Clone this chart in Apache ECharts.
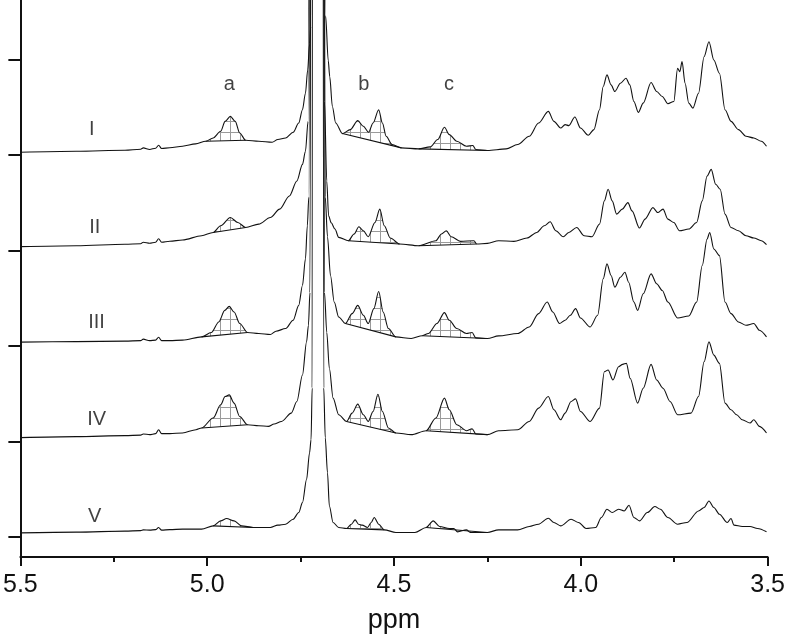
<!DOCTYPE html>
<html>
<head>
<meta charset="utf-8">
<script src="https://cdn.jsdelivr.net/npm/echarts@6/dist/echarts.min.js"></script>
<style>html,body{margin:0;padding:0;background:#fff}#c{width:788px;height:639px}</style>
</head>
<body>
<div id="c"></div>
<script>
// ---- data (ppm, intensity above each trace's reference line) ----
const xTicks = [3.5, 4.0, 4.5, 5.0, 5.5];
const traceNames = ['I', 'II', 'III', 'IV', 'V'];
const traceOffsets = [384, 288, 192, 96, 0];
const yTickValues = [0, 96, 192, 288, 384, 480];

const specI = [[5.5,3],[5.35,4],[5.22,5],[5.178,6],[5.171,7.3],[5.154,5.7],[5.138,7],[5.13,10],[5.122,6.7],[5.10,7.5],[5.066,9],[5.031,11.3],[5.004,14],[4.984,17.3],[4.964,24],[4.952,34],[4.938,39],[4.925,34],[4.913,22.3],[4.897,15],[4.862,14],[4.826,13],[4.811,15.7],[4.790,17.3],[4.770,23],[4.755,32.3],[4.745,45.7],[4.737,62.3],[4.731,85.7],[4.726,112],[4.723,129],
[4.717,2000],[4.705,8000],[4.693,2000],
[4.683,140],[4.676,95],[4.672,79],[4.665,49],[4.656,32.3],[4.638,21.7],[4.617,25.7],[4.597,34.7],[4.582,29],[4.568,23],[4.556,32.3],[4.541,45.7],[4.531,32.3],[4.521,19],[4.505,10.7],[4.480,7.3],[4.434,6.3],[4.403,8.3],[4.383,15.7],[4.365,28],[4.352,20.7],[4.332,14],[4.306,9],[4.289,9.7],[4.281,5.7],[4.250,4.7],[4.200,6.3],[4.169,10.7],[4.138,19],[4.113,32.3],[4.087,44],[4.072,34],[4.054,27.3],[4.042,30.7],[4.032,29.7],[4.016,38.3],[4.001,27.3],[3.980,20],[3.965,25.7],[3.950,45.7],[3.940,69],[3.930,80.7],[3.919,70.7],[3.909,64],[3.894,72.3],[3.879,77.3],[3.869,70.7],[3.858,54],[3.846,43],[3.833,52.3],[3.812,73],[3.797,64],[3.782,59],[3.767,51.7],[3.751,54],[3.741,87.3],[3.735,84],[3.729,94],[3.721,72.3],[3.711,52.3],[3.700,47.3],[3.685,62.3],[3.670,99],[3.657,114],[3.644,95.7],[3.629,82.3],[3.614,45.7],[3.598,34],[3.578,25.7],[3.558,19],[3.537,17.3],[3.517,14],[3.503,9]];

const specII = [[5.5,4],[5.35,5],[5.22,6.5],[5.178,7],[5.171,8.5],[5.154,7.5],[5.138,8.5],[5.13,12],[5.122,8.5],[5.10,9.5],[5.066,10.7],[5.015,15],[4.984,18.3],[4.964,25],[4.938,33.3],[4.918,28.3],[4.897,23.3],[4.862,26.7],[4.831,33.3],[4.806,41.7],[4.780,55],[4.760,70],[4.745,86.7],[4.737,100],[4.730,130],
[4.717,2000],[4.705,8000],[4.693,2000],
[4.686,150],[4.680,70],[4.675,35],[4.668,28],[4.658,21.7],[4.648,13.3],[4.622,10],[4.607,16.7],[4.594,24],[4.582,20],[4.569,14],[4.551,28.3],[4.538,41.7],[4.526,25],[4.510,12.7],[4.485,6.7],[4.434,5],[4.388,10],[4.373,16.7],[4.360,20],[4.347,14],[4.322,9.3],[4.286,10],[4.279,6.7],[4.250,7.3],[4.220,10],[4.179,9.3],[4.144,12.7],[4.118,18.3],[4.098,25],[4.082,29],[4.067,20],[4.047,14],[4.032,18.3],[4.011,23.3],[3.991,15],[3.970,14],[3.950,26.7],[3.937,50],[3.927,61.7],[3.916,50],[3.904,36.7],[3.889,41.7],[3.874,48.3],[3.863,40],[3.843,22.7],[3.828,31.7],[3.807,43.3],[3.794,38.3],[3.780,41.7],[3.767,31.7],[3.751,28.3],[3.736,20],[3.711,21.7],[3.690,28.3],[3.675,50],[3.662,75],[3.651,81.7],[3.639,66.7],[3.627,61.7],[3.614,36.7],[3.598,23.3],[3.578,20],[3.558,15],[3.537,12.7],[3.517,10],[3.503,6]];

const specIII = [[5.5,4],[5.35,4.5],[5.22,5],[5.178,5.5],[5.171,7],[5.154,5.5],[5.138,6],[5.13,9],[5.122,5.5],[5.10,5.5],[5.066,6],[5.015,9.3],[4.989,13.7],[4.969,24.3],[4.953,36],[4.941,40],[4.928,34.3],[4.913,22.7],[4.892,13.7],[4.862,12.7],[4.831,11.7],[4.816,15],[4.790,17.7],[4.770,26],[4.755,41],[4.745,61],[4.737,87.7],[4.732,121],[4.728,150],
[4.717,2000],[4.705,8000],[4.693,2000],
[4.684,150],[4.678,110],[4.670,71],[4.660,44.3],[4.648,29.3],[4.630,22.7],[4.612,32.7],[4.597,41],[4.582,31],[4.569,22.7],[4.554,37.7],[4.541,55],[4.529,34.3],[4.515,17.7],[4.495,9.3],[4.454,7.7],[4.424,10.5],[4.408,12.7],[4.385,22.7],[4.365,33.7],[4.352,26],[4.332,17.7],[4.306,12.7],[4.291,13.7],[4.281,8.3],[4.250,7.7],[4.220,10.3],[4.169,12.7],[4.138,19.3],[4.113,32.7],[4.090,44.3],[4.075,34.3],[4.057,22.7],[4.042,26],[4.028,31],[4.014,37.7],[4.001,28.3],[3.975,19.3],[3.955,31],[3.940,67.7],[3.930,82.7],[3.919,71],[3.909,59.3],[3.894,69.3],[3.882,74.3],[3.872,64.3],[3.858,44.3],[3.848,36],[3.833,52.7],[3.812,72.7],[3.797,62.7],[3.782,56],[3.767,44.3],[3.741,28.3],[3.711,30.3],[3.690,44.3],[3.675,81],[3.662,107.7],[3.655,114.3],[3.644,97.7],[3.629,91],[3.614,44.3],[3.598,32.7],[3.578,24.3],[3.558,21],[3.537,22.7],[3.522,16],[3.503,9.3]];

const specIV = [[5.5,4],[5.35,5],[5.22,6],[5.178,6.5],[5.171,7.7],[5.154,7],[5.138,8],[5.13,12],[5.122,8],[5.10,8],[5.066,8.7],[5.03,12],[5.015,13.7],[4.984,23.7],[4.964,37],[4.952,45.3],[4.941,47],[4.928,38.7],[4.913,25.3],[4.892,17],[4.862,16],[4.836,15.3],[4.821,17.7],[4.801,20.3],[4.775,28.7],[4.760,40.3],[4.745,67],[4.734,100.3],[4.729,117],[4.725,150],
[4.717,2000],[4.705,8000],[4.693,2000],
[4.686,150],[4.680,110],[4.673,73.7],[4.663,43.7],[4.648,27],[4.627,20.3],[4.612,28.7],[4.597,37.7],[4.582,27],[4.569,20.3],[4.556,30.3],[4.543,47.7],[4.531,30.3],[4.515,13.7],[4.495,8.7],[4.454,7],[4.414,11],[4.388,23.7],[4.365,43.7],[4.352,32],[4.332,17],[4.306,11],[4.291,13],[4.281,7.7],[4.250,7],[4.220,11],[4.169,12],[4.138,20.3],[4.113,33.7],[4.087,45.3],[4.072,32],[4.054,22],[4.042,28.7],[4.026,40.3],[4.014,43],[4.001,30.3],[3.975,20.3],[3.950,33.7],[3.937,70.3],[3.927,72],[3.914,62],[3.899,75.3],[3.888,77.7],[3.878,78.7],[3.868,63.7],[3.848,38.7],[3.833,53.7],[3.812,77.7],[3.797,62],[3.780,53.7],[3.761,40.3],[3.741,27],[3.705,28.7],[3.685,45.3],[3.670,80.3],[3.657,100.3],[3.644,87],[3.629,78.7],[3.614,38.7],[3.598,32],[3.583,27],[3.568,22],[3.547,18.7],[3.537,22],[3.522,15.3],[3.503,8.7]];

const specV = [[5.5,4.3],[5.35,5],[5.22,6],[5.178,6.5],[5.171,7.3],[5.154,7],[5.138,7.5],[5.13,9.7],[5.122,7],[5.10,7.5],[5.066,8],[5.015,8],[4.984,11.3],[4.964,16.3],[4.948,18.7],[4.928,16.3],[4.908,11.3],[4.877,9.7],[4.831,9.7],[4.811,12],[4.790,13],[4.770,18],[4.755,24.7],[4.745,34.7],[4.734,58],[4.726,84.7],[4.722,98],[4.719,150],
[4.717,2000],[4.705,8000],[4.693,2000],
[4.688,150],[4.684,100],[4.678,64.7],[4.673,31.3],[4.663,14.7],[4.648,9.7],[4.627,8.7],[4.614,13],[4.604,17.3],[4.595,13],[4.585,12],[4.571,9.7],[4.561,14.7],[4.553,19.7],[4.541,13],[4.526,7.3],[4.495,4.7],[4.444,4.7],[4.414,9.7],[4.395,16.3],[4.378,10.7],[4.352,8.7],[4.340,8.7],[4.330,5.3],[4.306,7.3],[4.296,4.7],[4.250,4.7],[4.220,7.3],[4.169,7.3],[4.138,10.7],[4.113,13],[4.087,19],[4.072,14.7],[4.054,11.3],[4.026,18],[4.006,14.7],[3.986,8.7],[3.960,9.7],[3.945,19.7],[3.930,28],[3.916,24.7],[3.899,28],[3.884,26.3],[3.871,32],[3.858,19.7],[3.843,16.3],[3.822,24.7],[3.802,30.7],[3.787,28],[3.767,19.7],[3.741,13],[3.716,14.7],[3.685,26.3],[3.670,29.7],[3.657,36.3],[3.644,29.7],[3.629,23],[3.608,14.7],[3.598,18.7],[3.590,12],[3.568,10.7],[3.547,10.7],[3.527,8.7],[3.503,5.3]];

// integration windows (from ppm, to ppm) for peaks a, b, c
const regI = [[5.004,4.897],[4.638,4.480],[4.434,4.250]];
const regII = [[4.984,4.897],[4.622,4.485],[4.434,4.279]];
const regIII = [[5.015,4.892],[4.630,4.495],[4.424,4.250]];
const regIV = [[5.015,4.892],[4.627,4.495],[4.414,4.250]];
const regV = [[4.984,4.877],[4.627,4.526],[4.414,4.250]];

const traceLabelPos = [[5.309,409.5],[5.301,311],[5.296,216],[5.296,118.5],[5.301,21]];
const peakNames = ['a', 'b', 'c'];
const peakLabelPos = [[4.941,455],[4.581,455],[4.353,455]];

// ---- build ----
const spectra = [specI, specII, specIII, specIV, specV];
const regions = [regI, regII, regIII, regIV, regV];

const pc = document.createElement('canvas');
pc.width = 10; pc.height = 11;
const pctx = pc.getContext('2d');
pctx.strokeStyle = '#9a9a9a';
pctx.lineWidth = 1;
pctx.beginPath();
pctx.moveTo(0.5, 0); pctx.lineTo(0.5, 11);
pctx.moveTo(0, 0.5); pctx.lineTo(10, 0.5);
pctx.stroke();
const hatch = { image: pc, repeat: 'repeat' };

const hatchList = [];
spectra.forEach((s, i) => regions[i].forEach(r => hatchList.push({ spec: s, off: traceOffsets[i], from: r[0], to: r[1] })));

const series = [];
series.push({
  type: 'custom',
  z: 1,
  silent: true,
  encode: { x: 0, y: 1 },
  data: hatchList.map(h => [h.from, h.off]),
  renderItem: function (params, api) {
    const h = hatchList[params.dataIndex];
    const pts = h.spec.filter(p => p[0] <= h.from + 1e-9 && p[0] >= h.to - 1e-9)
      .map(p => api.coord([p[0], p[1] + h.off]));
    const a = pts[0], b = pts[pts.length - 1];
    return {
      type: 'group',
      children: [
        { type: 'polygon', shape: { points: pts }, style: { fill: hatch, stroke: null } },
        { type: 'line', shape: { x1: a[0], y1: a[1], x2: b[0], y2: b[1] }, style: { stroke: '#111', lineWidth: 1.1 } }
      ]
    };
  }
});
spectra.forEach((s, i) => {
  series.push({
    type: 'line',
    name: traceNames[i],
    z: 3,
    showSymbol: false,
    symbol: 'none',
    smooth: 0.3,
    smoothMonotone: 'x',
    clip: true,
    lineStyle: { color: '#111', width: 1.1 },
    data: s.map(p => [p[0], p[1] + traceOffsets[i]])
  });
});
const labelFont = '"Liberation Sans", Arial, sans-serif';
series.push({
  type: 'scatter',
  z: 5,
  symbolSize: 0,
  silent: true,
  label: { show: true, position: 'inside', formatter: '{b}', fontSize: 20, color: '#111', fontFamily: labelFont },
  data: traceNames.map((n, i) => ({ name: n, value: traceLabelPos[i] }))
    .concat(peakNames.map((n, i) => ({ name: n, value: peakLabelPos[i] })))
});

const chart = echarts.init(document.getElementById('c'), null, { renderer: 'canvas' });
chart.setOption({
  animation: false,
  backgroundColor: '#fff',
  grid: { left: 16, right: 17, top: 0, bottom: 81, containLabel: false },
  xAxis: {
    type: 'value',
    inverse: true,
    min: 3.5, max: 5.5, interval: 0.5,
    name: 'ppm',
    nameLocation: 'middle',
    nameGap: 50,
    nameTextStyle: { fontSize: 27, color: '#111', fontFamily: labelFont },
    axisLine: { onZero: false, lineStyle: { color: '#111', width: 2 } },
    axisTick: { length: 9, lineStyle: { color: '#111', width: 2 } },
    minorTick: { show: true, splitNumber: 2, length: 5, lineStyle: { color: '#111', width: 2 } },
    splitLine: { show: false },
    minorSplitLine: { show: false },
    axisLabel: { fontSize: 25, color: '#111', margin: 16, fontFamily: labelFont,
      formatter: v => xTicks.indexOf(v) >= 0 ? v.toFixed(1) : '' }
  },
  yAxis: {
    type: 'value',
    min: -20, max: 540,
    axisLine: { show: true, onZero: false, lineStyle: { color: '#111', width: 2 } },
    axisTick: { show: true, length: 12, customValues: yTickValues, lineStyle: { color: '#111', width: 2 } },
    axisLabel: { show: false },
    splitLine: { show: false }
  },
  series: series
});
</script>
</body>
</html>
